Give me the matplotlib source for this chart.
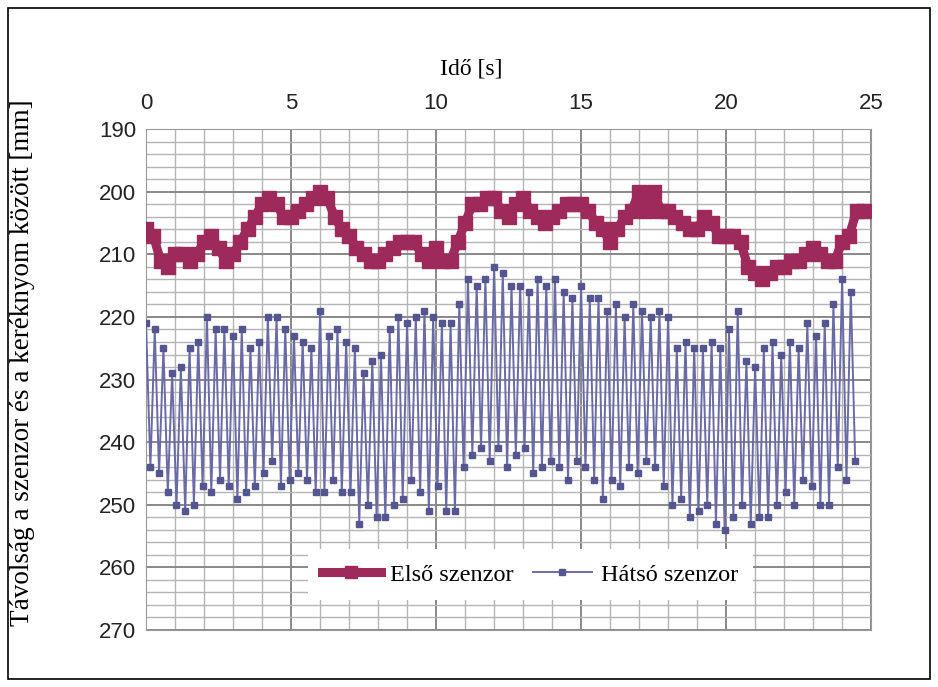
import matplotlib
matplotlib.use("Agg")
import matplotlib.pyplot as plt
from matplotlib.font_manager import FontProperties
from matplotlib.patches import Rectangle
from matplotlib.ticker import MultipleLocator
import numpy as np

# Front sensor, sampled every 0.25 s [mm]
FRONT_DT = 0.25
FRONT = [
    206, 207, 211, 212, 210, 210, 211, 210, 208, 207,
    209, 211, 210, 208, 206, 204, 202, 201, 202, 204,
    204, 203, 202, 201, 200, 201, 204, 206, 207, 209,
    210, 211, 211, 210, 209, 208, 208, 208, 210, 211,
    209, 211, 211, 208, 205, 202, 202, 201, 201, 203,
    204, 202, 201, 203, 204, 205, 204, 203, 202, 202,
    202, 203, 205, 206, 208, 206, 204, 203, 200, 203,
    200, 203, 203, 204, 205, 206, 206, 204, 205, 207,
    207, 207, 208, 212, 213, 214, 213, 212, 212, 211,
    211, 210, 209, 210, 211, 211, 208, 207, 203, 203,
]

# Rear sensor: one peak and one trough per 0.3 s cycle [mm]
REAR_CYCLE = 0.3
REAR_TOP = [
    221, 222, 225, 229, 228, 225, 224, 220, 222, 222,
    223, 222, 225, 224, 220, 220, 222, 223, 224, 225,
    219, 223, 222, 224, 225, 229, 227, 226, 222, 220,
    221, 220, 219, 220, 221, 221, 218, 214, 215, 214,
    212, 213, 215, 215, 216, 214, 215, 214, 216, 217,
    215, 217, 217, 219, 218, 220, 218, 219, 220, 219,
    220, 225, 224, 225, 225, 224, 225, 222, 219, 227,
    228, 225, 224, 226, 224, 225, 221, 223, 221, 218,
    214, 216,
]
REAR_BOTTOM = [
    244, 245, 248, 250, 251, 250, 247, 248, 246, 247,
    249, 248, 247, 245, 243, 247, 246, 245, 246, 248,
    248, 246, 248, 248, 253, 250, 252, 252, 250, 249,
    246, 248, 251, 247, 251, 251, 244, 242, 241, 243,
    241, 244, 242, 241, 245, 244, 243, 244, 246, 243,
    244, 246, 249, 246, 247, 244, 245, 243, 244, 247,
    250, 249, 252, 251, 250, 253, 254, 252, 250, 253,
    252, 252, 250, 248, 250, 246, 247, 250, 250, 244,
    246, 243,
]

FRONT_COLOR = "#9e2a5c"
REAR_COLOR = "#6a6aa6"
SERIF = "Liberation Serif"

front_t = np.arange(len(FRONT)) * FRONT_DT
rear_t, rear_v = [], []
for k, (hi, lo) in enumerate(zip(REAR_TOP, REAR_BOTTOM)):
    rear_t += [k * REAR_CYCLE, k * REAR_CYCLE + REAR_CYCLE / 2]
    rear_v += [hi, lo]

fig = plt.figure(figsize=(9.38, 6.87), dpi=100)
ax = fig.add_axes([0.1557, 0.083, 0.773, 0.729])

ax.plot(rear_t, rear_v, color=REAR_COLOR, lw=1.4, marker="s", ms=5,
        mfc="#55558f", mec="#55558f", label="Hátsó szenzor", zorder=3)
ax.plot(front_t, FRONT, color=FRONT_COLOR, lw=6.5, marker="s", ms=10,
        mfc=FRONT_COLOR, mec=FRONT_COLOR, label="Első szenzor", zorder=4)

ax.set_xlim(0, 25)
ax.set_ylim(270, 190)
ax.xaxis.set_major_locator(MultipleLocator(5))
ax.xaxis.set_minor_locator(MultipleLocator(1))
ax.yaxis.set_major_locator(MultipleLocator(10))
ax.yaxis.set_minor_locator(MultipleLocator(2))
ax.xaxis.tick_top()
ax.grid(which="minor", color="#b4b4b4", lw=1.0, zorder=0)
ax.grid(which="major", color="#888888", lw=1.4, zorder=0)
ax.tick_params(which="both", length=0)
ax.tick_params(axis="x", pad=11, labelsize=16)
ax.tick_params(axis="y", pad=7, labelsize=16)
for lab in ax.get_xticklabels() + ax.get_yticklabels():
    lab.set_family("Liberation Sans")
    lab.set_color("#222222")
for sp in ax.spines.values():
    sp.set_color("#999999")
ax.set_axisbelow(True)

fig.text(0.502, 0.90, "Idő [s]", family=SERIF, fontsize=17,
         ha="center", va="center")
fig.text(0.024, 0.472, "Távolság a szenzor és a keréknyom között [mm]",
         family=SERIF, fontsize=19.5, rotation=90,
         ha="center", va="center")

handles, labels = ax.get_legend_handles_labels()
leg = ax.legend(handles[::-1], labels[::-1], loc="center",
                bbox_to_anchor=(0.53, 0.11), ncol=2, frameon=True,
                fancybox=False, edgecolor="none", facecolor="white",
                framealpha=1, prop=FontProperties(family=SERIF, size=17.5),
                handlelength=2.4, columnspacing=0.8, handletextpad=0.4,
                markerscale=0.8, borderpad=0.6)
leg.set_zorder(10)

fig.patches.append(Rectangle((0.009, 0.012), 0.982, 0.976,
                             transform=fig.transFigure, fill=False,
                             edgecolor="black", lw=1.2))

fig.savefig("out.png", dpi=100, facecolor="white")
